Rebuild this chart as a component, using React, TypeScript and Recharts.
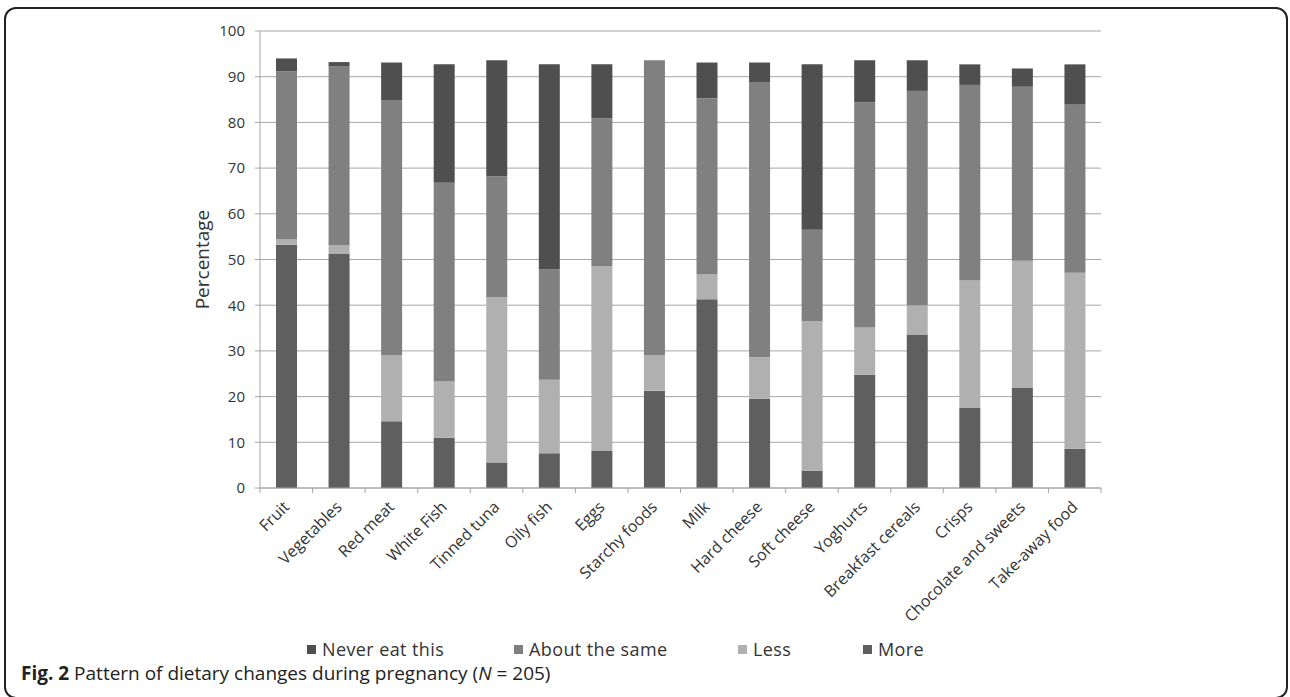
import React from 'react';
import { BarChart, Bar, XAxis, YAxis, CartesianGrid, Legend } from 'recharts';

const CATEGORIES = [
  'Fruit', 'Vegetables', 'Red meat', 'White Fish', 'Tinned tuna', 'Oily fish', 'Eggs',
  'Starchy foods', 'Milk', 'Hard cheese', 'Soft cheese', 'Yoghurts', 'Breakfast cereals',
  'Crisps', 'Chocolate and sweets', 'Take-away food',
];
const MORE = [53.2, 51.2, 14.6, 11.0, 5.6, 7.6, 8.1, 21.3, 41.3, 19.5, 3.8, 24.8, 33.6, 17.5, 22.0, 8.6];
const LESS = [1.3, 2.0, 14.5, 12.3, 36.2, 16.1, 40.5, 7.8, 5.4, 9.1, 32.7, 10.3, 6.4, 27.9, 27.7, 38.5];
const SAME = [36.7, 39.0, 55.8, 43.5, 26.4, 24.1, 32.3, 64.5, 38.6, 60.1, 20.0, 49.3, 46.9, 42.8, 38.1, 36.8];
const NEVER = [2.8, 1.0, 8.2, 25.9, 25.4, 44.9, 11.8, 0, 7.8, 4.4, 36.2, 9.2, 6.7, 4.5, 4.0, 8.8];
const Y_TICKS = [0, 10, 20, 30, 40, 50, 60, 70, 80, 90, 100];

// stacking order bottom -> top; legend shows it reversed
const SERIES = [
  { key: 'more', name: 'More', color: '#5f5f5f' },
  { key: 'less', name: 'Less', color: '#b0b0b0' },
  { key: 'same', name: 'About the same', color: '#808080' },
  { key: 'never', name: 'Never eat this', color: '#4f4f4f' },
];

const data = CATEGORIES.map((name, i) => ({
  name,
  more: MORE[i],
  less: LESS[i],
  same: SAME[i],
  never: NEVER[i],
}));

const FONT = '"Open Sans", sans-serif';
const AXIS_GRAY = '#a6a6a6';
const PLOT_LEFT = 260;
const PLOT_RIGHT = 1101;
const PLOT_W = PLOT_RIGHT - PLOT_LEFT;
// width of each legend slot (Never, About the same, Less, More)
const LEGEND_SLOTS = [207, 224, 125, 100];

const CategoryTick = (props: any) => {
  const { x, y, payload, index } = props;
  const band = PLOT_W / CATEGORIES.length;
  const last = index === CATEGORIES.length - 1;
  return (
    <g>
      <line x1={x - band / 2} x2={x - band / 2} y1={y} y2={y + 5} stroke={AXIS_GRAY} />
      {last && <line x1={x + band / 2} x2={x + band / 2} y1={y} y2={y + 5} stroke={AXIS_GRAY} />}
      <text
        transform={`translate(${x + 4},${y + 20}) rotate(-45)`}
        textAnchor="end"
        fontSize={16}
        fontFamily={FONT}
        fill="#333"
      >
        {payload.value}
      </text>
    </g>
  );
};

const LegendBox = () => (
  <div style={{ display: 'flex', paddingLeft: 307, fontFamily: FONT, fontSize: 18, color: '#333' }}>
    {[...SERIES].reverse().map((s, i) => (
      <div key={s.key} style={{ display: 'flex', alignItems: 'center', width: LEGEND_SLOTS[i] }}>
        <span style={{ width: 9, height: 9, background: s.color, display: 'inline-block', marginRight: 6 }} />
        <span style={{ letterSpacing: 0.4 }}>{s.name}</span>
      </div>
    ))}
  </div>
);

export default function App() {
  return (
    <div style={{ position: 'absolute', left: 0, top: 0, width: 1290, height: 697, background: '#fff', overflow: 'hidden' }}>
      <div
        style={{
          position: 'absolute', left: 4, top: 7, width: 1284, height: 692,
          border: '2px solid #222', borderRadius: 12, boxSizing: 'border-box',
        }}
      />
      <div style={{ position: 'absolute', left: 0, top: 0 }}>
        <BarChart
          width={1290}
          height={640}
          data={data}
          margin={{ top: 31, right: 1290 - PLOT_RIGHT, left: PLOT_LEFT - 60, bottom: 0 }}
        >
          <CartesianGrid vertical={false} stroke={AXIS_GRAY} />
          <XAxis
            dataKey="name"
            interval={0}
            height={152}
            tickLine={false}
            tickSize={0}
            tickMargin={0}
            axisLine={{ stroke: AXIS_GRAY }}
            tick={<CategoryTick />}
          />
          <YAxis
            width={60}
            domain={[0, 100]}
            ticks={Y_TICKS}
            tickSize={5}
            tickMargin={10}
            axisLine={{ stroke: AXIS_GRAY }}
            tickLine={{ stroke: AXIS_GRAY }}
            tick={{ fontSize: 15, fontFamily: FONT, fill: '#333' }}
            label={{
              value: 'Percentage', angle: -90, position: 'insideLeft', offset: 0, dx: 2,
              style: { textAnchor: 'middle', fontSize: 19, fontFamily: FONT, fill: '#333' },
            }}
          />
          <Legend
            layout="horizontal"
            verticalAlign="middle"
            align="center"
            wrapperStyle={{ top: 637, left: 0, width: 1290 }}
            content={<LegendBox />}
          />
          {SERIES.map((s) => (
            <Bar key={s.key} dataKey={s.key} name={s.name} stackId="a" fill={s.color} barSize={21} isAnimationActive={false} />
          ))}
        </BarChart>
      </div>
      <div style={{ position: 'absolute', left: 21, top: 660, fontFamily: FONT, fontSize: 19, color: '#222', whiteSpace: 'nowrap' }}>
        <b>Fig. 2</b> Pattern of dietary changes during pregnancy (<i>N</i> = 205)
      </div>
    </div>
  );
}
